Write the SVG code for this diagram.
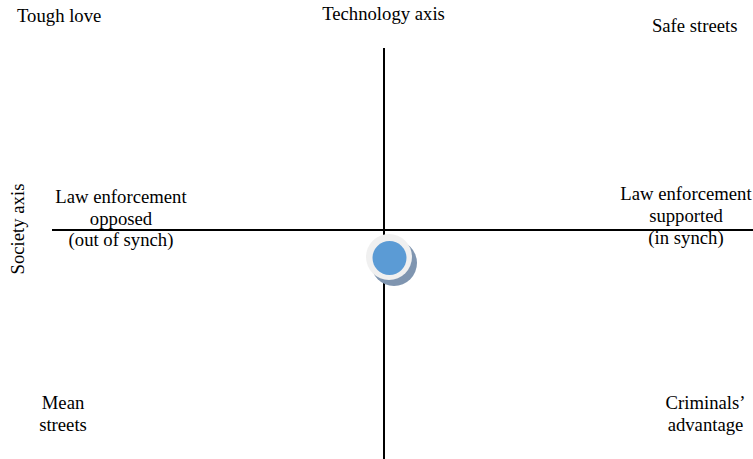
<svg xmlns="http://www.w3.org/2000/svg" width="753" height="459" viewBox="0 0 753 459">
  <style>
    text { font-family: "Liberation Serif", "DejaVu Serif", serif; font-size: 18.7px; fill: #000; }
    .mid { text-anchor: middle; }
    .end { text-anchor: end; }
    .axis { stroke: #000; stroke-width: 2; fill: none; }
  </style>
  <defs>
    <filter id="soft-shadow" x="-20%" y="-20%" width="140%" height="140%">
      <feGaussianBlur stdDeviation="0.5"/>
    </filter>
  </defs>
  <rect width="753" height="459" fill="#fff"/>
  <g id="connectors">
    <line class="axis" x1="52" y1="230" x2="753" y2="230"/>
    <line class="axis" x1="384" y1="48" x2="384" y2="459"/>
  </g>
  <g id="axis-labels">
    <text class="mid" x="383.5" y="20">Technology axis</text>
    <text class="mid" transform="translate(24,229) rotate(-90)">Society axis</text>
  </g>
  <g id="quadrant-top-left"><text x="17" y="22">Tough love</text></g>
  <g id="quadrant-top-right"><text class="end" x="737.5" y="31.5">Safe streets</text></g>
  <g id="quadrant-bottom-left">
    <text class="mid" x="63" y="408.5">Mean</text>
    <text class="mid" x="63" y="430.5">streets</text>
  </g>
  <g id="quadrant-bottom-right">
    <text class="mid" x="705.5" y="408.5">Criminals’</text>
    <text class="mid" x="705.5" y="431">advantage</text>
  </g>
  <g id="pole-left">
    <text class="mid" x="121" y="203">Law enforcement</text>
    <text class="mid" x="121" y="225">opposed</text>
    <text class="mid" x="121" y="246">(out of synch)</text>
  </g>
  <g id="pole-right">
    <text class="mid" x="686" y="200">Law enforcement</text>
    <text class="mid" x="686" y="222">supported</text>
    <text class="mid" x="686" y="244">(in synch)</text>
  </g>
  <g id="position-marker">
    <circle cx="394" cy="263" r="23" fill="#7f95b0" filter="url(#soft-shadow)"/>
    <circle cx="389" cy="257" r="23" fill="#f0f0f0"/>
    <circle cx="389.5" cy="258" r="17" fill="#5b9bd5"/>
  </g>
</svg>
